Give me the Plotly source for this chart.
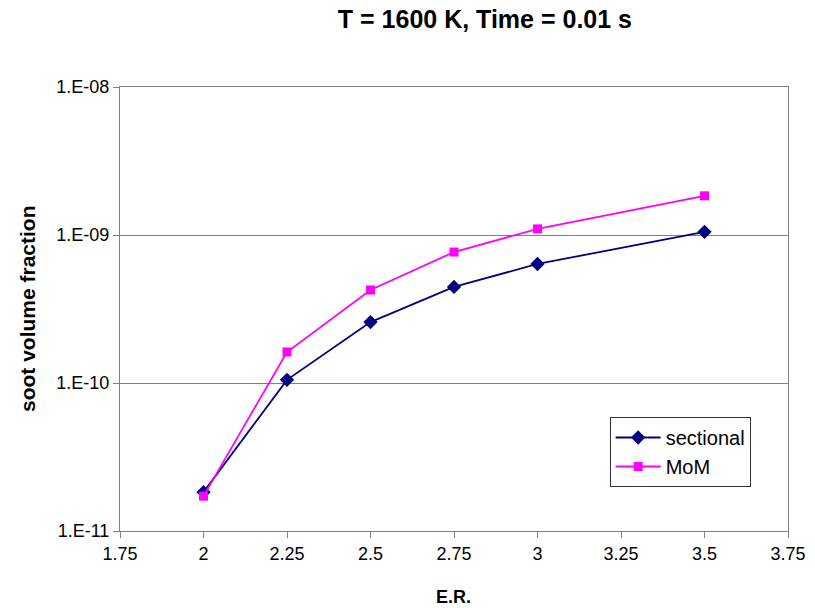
import plotly.graph_objects as go

# Equivalence ratio and soot volume fraction predictions
er = [2.0, 2.25, 2.5, 2.75, 3.0, 3.5]
sectional = [1.83e-11, 1.05e-10, 2.58e-10, 4.46e-10, 6.37e-10, 1.05e-9]
mom = [1.72e-11, 1.62e-10, 4.25e-10, 7.67e-10, 1.10e-9, 1.84e-9]

x_ticks = [1.75, 2.0, 2.25, 2.5, 2.75, 3.0, 3.25, 3.5, 3.75]
x_tick_text = ["1.75", "2", "2.25", "2.5", "2.75", "3", "3.25", "3.5", "3.75"]
y_ticks = [1e-11, 1e-10, 1e-9, 1e-8]
y_tick_text = ["1.E-11", "1.E-10", "1.E-09", "1.E-08"]

FONT = "Liberation Sans, Arial, sans-serif"

fig = go.Figure()
fig.add_trace(go.Scatter(
    x=er, y=sectional, name="sectional", mode="lines+markers",
    line=dict(color="#000080", width=1.8),
    marker=dict(symbol="diamond", size=11, color="#000080"),
))
fig.add_trace(go.Scatter(
    x=er, y=mom, name="MoM", mode="lines+markers",
    line=dict(color="#FF00FF", width=1.8),
    marker=dict(symbol="square", size=9, color="#FF00FF"),
))

fig.update_layout(
    width=815, height=608,
    margin=dict(l=120, r=27, t=87, b=77),
    paper_bgcolor="white", plot_bgcolor="white",
    font=dict(family=FONT, size=18, color="black"),
    title=dict(
        text="<b>T = 1600 K, Time = 0.01 s</b>",
        x=0.595, xanchor="center", xref="container",
        y=1 - 19 / 608, yanchor="middle", yref="container",
        font=dict(family=FONT, size=25, color="black"),
    ),
    showlegend=True,
    legend=dict(
        x=0.733, y=0.2568, xanchor="left", yanchor="top",
        bgcolor="white", bordercolor="#333333", borderwidth=1,
        font=dict(family=FONT, size=20, color="black"),
        tracegroupgap=0, itemwidth=45,
    ),
    xaxis=dict(
        range=[1.75, 3.75], tickvals=x_ticks, ticktext=x_tick_text,
        showgrid=False, zeroline=False, automargin=False,
        showline=True, linecolor="#808080", linewidth=1, mirror=True,
        ticks="outside", ticklen=6, tickcolor="#808080",
        tickfont=dict(family=FONT, size=18, color="black"),
    ),
    yaxis=dict(
        type="log", range=[-11, -8], tickvals=y_ticks, ticktext=y_tick_text,
        showgrid=True, gridcolor="#808080", gridwidth=1, zeroline=False, automargin=False,
        showline=True, linecolor="#808080", linewidth=1, mirror=True,
        ticks="outside", ticklen=6, tickcolor="#808080",
        tickfont=dict(family=FONT, size=18, color="black"),
    ),
    annotations=[
        dict(
            text="<b>E.R.</b>", xref="paper", yref="paper",
            x=(453 - 120) / 668, y=-(597 - 531) / 444,
            xanchor="center", yanchor="middle", showarrow=False,
            font=dict(family=FONT, size=18, color="black"),
        ),
        dict(
            text="<b>soot volume fraction</b>", xref="paper", yref="paper",
            x=-(120 - 27) / 668, y=0.5, textangle=-90,
            xanchor="center", yanchor="middle", showarrow=False,
            font=dict(family=FONT, size=21, color="black"),
        ),
    ],
)

fig.write_html("out.html")
